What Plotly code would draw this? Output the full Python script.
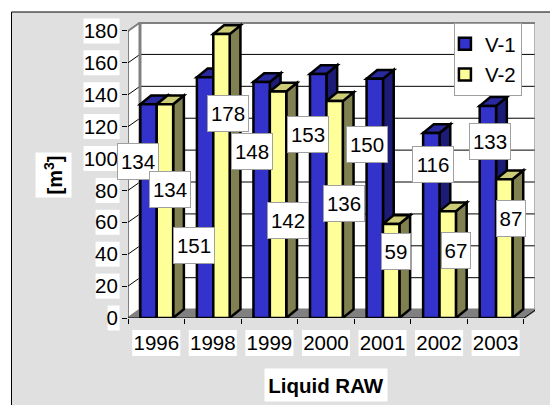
import plotly.graph_objects as go

# ---- data ----
years = ["1996", "1998", "1999", "2000", "2001", "2002", "2003"]
v1 = [134, 151, 148, 153, 150, 116, 133]
v2 = [134, 178, 142, 136, 59, 67, 87]
y_ticks = [0, 20, 40, 60, 80, 100, 120, 140, 160, 180]

# ---- geometry / style ----
W, H = 550, 405
L, R, T, B = 128.4, 535.0, 22.0, 318.0
Y_TOP = 185.6
X_MIN, X_MAX = -0.5, 6.696
WALL_DX, WALL_DY = 0.212, 5.27
BAR_W, BAR_DX, BAR_DY = 0.29, 0.19, 5.5
OFF1, OFF2 = -0.282, 0.008
BLUE, BLUE_TOP, BLUE_SIDE = "#3333cc", "#2a2aa0", "#1c1c78"
YEL, YEL_TOP, YEL_SIDE = "#ffff99", "#cccc77", "#808050"
GREY = "#808080"
FONT = "Liberation Sans, Arial, sans-serif"
TEXT_SIZE = 20.5
STEP = (R - L) / (X_MAX - X_MIN)
K = (B - T) / Y_TOP

# where each value box sits on the page (style table, centre pixels)
v1_box_px = [(138, 162), (194, 246), (252, 151), (308, 135), (367, 144), (433, 164), (490, 141)]
v2_box_px = [(170, 190), (228, 114), (288, 221), (344, 204), (396, 251), (456, 250), (511, 218)]


def px(x):
    return (x - L) / (R - L)


def py(y):
    return (B - y) / (B - T)


def poly(points, fill, line=None, lw=2, layer="between"):
    path = "M" + " L".join(f"{x:.4f},{y:.4f}" for x, y in points) + " Z"
    return dict(type="path", xref="x", yref="y", path=path, fillcolor=fill, layer=layer,
                line=dict(color=line or fill, width=lw))


def seg(x0, y0, x1, y1, color="black", w=1, layer="below"):
    return dict(type="line", xref="x", yref="y", x0=x0, y0=y0, x1=x1, y1=y1, layer=layer,
                line=dict(color=color, width=w))


def paper_rect(x0, y0, x1, y1, fill):
    return dict(type="rect", xref="paper", yref="paper", x0=px(x0), x1=px(x1), y0=py(y1), y1=py(y0),
                fillcolor=fill, line=dict(width=0), layer="below")


shapes = [paper_rect(12, 12, 552, 407, "#e0e0e0")]
shapes.append(dict(type="line", xref="paper", yref="paper", x0=px(12), x1=px(12), y0=py(407), y1=py(12),
                   line=dict(color="black", width=1), layer="below"))
shapes.append(dict(type="line", xref="paper", yref="paper", x0=px(12), x1=px(552), y0=py(12), y1=py(12),
                   line=dict(color="black", width=1), layer="below"))

# white boxes behind tick labels
for t in y_ticks:
    n = len(str(t))
    shapes.append(paper_rect(120 - 12 * n, B - t * K - 12.5, 120, B - t * K + 12.5, "white"))
for i in range(len(years)):
    cx = L + STEP * (i + 0.5)
    shapes.append(paper_rect(cx - 24, 330, cx + 24, 356, "white"))

# walls and floor
x0w, x1w = X_MIN, 6.5
ytop = y_ticks[-1]
shapes.append(poly([(x0w + WALL_DX, WALL_DY), (x0w + WALL_DX, ytop + WALL_DY),
                    (x1w + WALL_DX, ytop + WALL_DY), (x1w + WALL_DX, WALL_DY)], "white", layer="below"))
shapes.append(poly([(x0w, 0), (x0w, ytop), (x0w + WALL_DX, ytop + WALL_DY), (x0w + WALL_DX, WALL_DY)],
                   "white", layer="below"))
shapes.append(poly([(x0w, 0), (x1w, 0), (x1w + WALL_DX, WALL_DY), (x0w + WALL_DX, WALL_DY)], GREY, layer="below"))
for t in y_ticks[1:]:
    shapes.append(seg(x0w + WALL_DX, t + WALL_DY, x1w + WALL_DX, t + WALL_DY))
    shapes.append(seg(x0w, t, x0w + WALL_DX, t + WALL_DY))
# wall frame
shapes.append(seg(x0w + WALL_DX, WALL_DY, x0w + WALL_DX, ytop + WALL_DY, GREY, 3))
shapes.append(seg(x0w + WALL_DX - 0.012, ytop + WALL_DY, x1w + WALL_DX + 0.012, ytop + WALL_DY, GREY, 3))
shapes.append(seg(x1w + WALL_DX, WALL_DY, x1w + WALL_DX, ytop + WALL_DY, GREY, 3))
shapes.append(seg(x0w, ytop, x0w + WALL_DX, ytop + WALL_DY, GREY, 2))
shapes.append(seg(x0w, 0, x0w, ytop, "black", 1))
shapes.append(seg(x0w, 0, x1w, 0, "black", 1))
shapes.append(seg(x1w, 0, x1w + WALL_DX, WALL_DY, "black", 1))

# 3-D sides and tops of the bars, built from the values
for i in range(len(years)):
    for vals, off, top, side in ((v1, OFF1, BLUE_TOP, BLUE_SIDE), (v2, OFF2, YEL_TOP, YEL_SIDE)):
        a = i + off
        b = a + BAR_W
        v = vals[i]
        shapes.append(poly([(b, 0), (b, v), (b + BAR_DX, v + BAR_DY), (b + BAR_DX, BAR_DY)], side, "black", 2.5))
        shapes.append(poly([(a, v), (b, v), (b + BAR_DX, v + BAR_DY), (a + BAR_DX, v + BAR_DY)], top, "black", 2.5))

fig = go.Figure()
fig.add_trace(go.Bar(name="V-1", x=years, y=v1, width=BAR_W, offset=OFF1, legendgroup="a",
                     marker=dict(color=BLUE, line=dict(color="black", width=2.5))))
fig.add_trace(go.Bar(name="V-2", x=years, y=v2, width=BAR_W, offset=OFF2, legendgroup="b",
                     marker=dict(color=YEL, line=dict(color="black", width=2.5))))

annotations = []
for vals, off, boxes in ((v1, OFF1, v1_box_px), (v2, OFF2, v2_box_px)):
    for i, v in enumerate(vals):
        bx = i + off + BAR_W / 2
        # anchored on the bar top, then moved to the box position of the reference
        sx = boxes[i][0] - (L + STEP * (bx + 0.5))
        sy = boxes[i][1] - (B - v * K)
        annotations.append(dict(
            x=bx, y=v, xref="x", yref="y", text=str(v), showarrow=False,
            xanchor="center", yanchor="middle",
            xshift=sx, yshift=-sy,
            width=(40 if v >= 100 else 28), height=35, bgcolor="white",
            bordercolor="#a0a0a0", borderwidth=1, borderpad=0,
            font=dict(family=FONT, size=TEXT_SIZE, color="black")))

# axis titles
annotations.append(dict(x=px(326), y=py(385), xref="paper", yref="paper", showarrow=False,
                        xanchor="center", yanchor="middle",
                        text="<b>Liquid RAW</b>", bgcolor="white", width=120, height=30,
                        font=dict(family=FONT, size=20.5, color="black")))
annotations.append(dict(x=px(53.5), y=py(175), xref="paper", yref="paper", showarrow=False, textangle=-90,
                        xanchor="center", yanchor="middle",
                        text="<b>[m<sup>3</sup>]</b>", bgcolor="white", width=42, height=33,
                        font=dict(family=FONT, size=20, color="black")))

fig.update_layout(
    width=W, height=H, autosize=False,
    margin=dict(l=L, r=W - R, t=T, b=H - B, pad=0),
    paper_bgcolor="white", plot_bgcolor="rgba(0,0,0,0)",
    barmode="overlay", shapes=shapes, annotations=annotations,
    font=dict(family=FONT, size=TEXT_SIZE, color="black"),
    legend=dict(x=px(454), y=py(23), xanchor="left", yanchor="top", bgcolor="white",
                bordercolor="#a0a0a0", borderwidth=1, font=dict(size=TEXT_SIZE),
                tracegroupgap=1, indentation=-10, itemclick=False),
    xaxis=dict(type="category", range=[X_MIN, X_MAX], tickson="boundaries", ticks="outside", ticklen=5,
               tickcolor="black", showline=False, showgrid=False, zeroline=False, ticklabelstandoff=10),
    yaxis=dict(range=[0, Y_TOP], tickvals=y_ticks, ticks="outside", ticklen=5, tickcolor="black",
               showline=False, showgrid=False, zeroline=False, ticklabelstandoff=0),
)
fig.write_html("out.html", config=dict(displayModeBar=False), post_script="document.body.style.margin='0';")
